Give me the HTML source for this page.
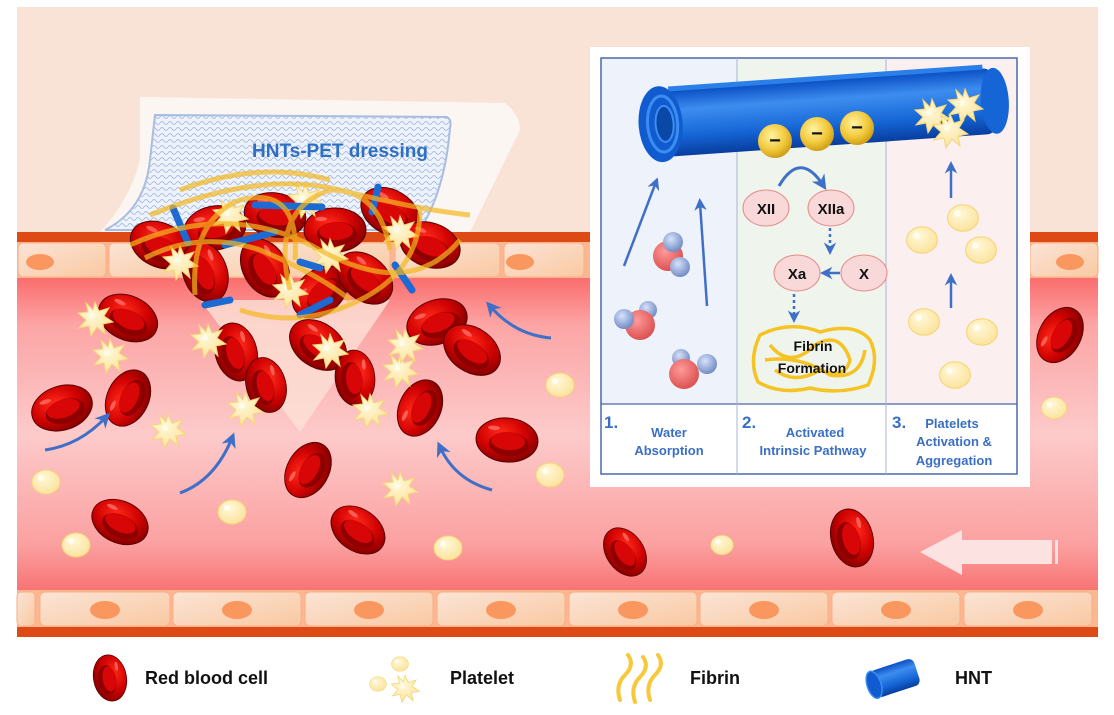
<!DOCTYPE html>
<html><head><meta charset="utf-8"><style>
html,body{margin:0;padding:0;background:#fff;}
svg{display:block;font-family:"Liberation Sans",sans-serif;}
</style></head><body>
<svg width="1114" height="715" viewBox="0 0 1114 715" xmlns="http://www.w3.org/2000/svg">
<defs>
<radialGradient id="rg" cx="0.4" cy="0.35" r="0.75"><stop offset="0" stop-color="#ff2a1a"/><stop offset="0.5" stop-color="#d20202"/><stop offset="1" stop-color="#700000"/></radialGradient>
<linearGradient id="lum" x1="0" y1="0" x2="0" y2="1"><stop offset="0" stop-color="#fb6d6d"/><stop offset="0.15" stop-color="#fca5a5"/><stop offset="0.5" stop-color="#fdcaca"/><stop offset="0.85" stop-color="#fba0a0"/><stop offset="1" stop-color="#f87272"/></linearGradient>
<linearGradient id="cell" x1="0" y1="0" x2="1" y2="1"><stop offset="0" stop-color="#fbe4d6"/><stop offset="1" stop-color="#f9c9a2"/></linearGradient>
<linearGradient id="tube" x1="0" y1="0" x2="0" y2="1"><stop offset="0" stop-color="#0a4fc4"/><stop offset="0.3" stop-color="#3d8df0"/><stop offset="0.7" stop-color="#1565d6"/><stop offset="1" stop-color="#083d9e"/></linearGradient>
<radialGradient id="ball" cx="0.4" cy="0.35" r="0.7"><stop offset="0" stop-color="#fff3a0"/><stop offset="0.6" stop-color="#f2c83a"/><stop offset="1" stop-color="#c79710"/></radialGradient>
<radialGradient id="oxy" cx="0.4" cy="0.35" r="0.7"><stop offset="0" stop-color="#ff9a9a"/><stop offset="1" stop-color="#d94c4c"/></radialGradient>
<radialGradient id="hyd" cx="0.4" cy="0.35" r="0.7"><stop offset="0" stop-color="#d6e2fb"/><stop offset="1" stop-color="#6c86c0"/></radialGradient>
<radialGradient id="plt" cx="0.4" cy="0.35" r="0.7"><stop offset="0" stop-color="#fff8d8"/><stop offset="1" stop-color="#fbe29a"/></radialGradient>
<pattern id="mesh" width="8" height="6" patternUnits="userSpaceOnUse"><rect width="8" height="6" fill="#eef2fb"/><path d="M0 3 Q2 0 4 3 T8 3" fill="none" stroke="#9fb4dc" stroke-width="0.8"/></pattern>
<g id="rbc"><ellipse rx="31" ry="22" fill="url(#rg)" stroke="#5a0000" stroke-width="1"/><ellipse cx="2" cy="4" rx="20" ry="12" fill="#8e0000"/><ellipse cx="1" cy="1" rx="17" ry="9" fill="#d80606"/><ellipse cx="-14" cy="-11" rx="6" ry="2.2" fill="#ff7a70" opacity="0.7"/></g>
<g id="pa"><path d="M0,-16 L4,-7 L14,-10 L9,-2 L18,4 L8,6 L10,16 L2,9 L-4,18 L-6,8 L-16,10 L-9,2 L-17,-5 L-7,-6 L-9,-15 L-2,-8 Z" fill="url(#plt)" stroke="#f5d676" stroke-width="1"/><circle cx="-3" cy="-2" r="3" fill="#fffbe9"/></g>
<g id="pr"><ellipse rx="14" ry="12" fill="url(#plt)" stroke="#f5d676" stroke-width="1"/><circle cx="-5" cy="-4" r="3" fill="#fffdf0"/></g>
<marker id="ah" viewBox="0 0 10 10" refX="6" refY="5" markerWidth="5" markerHeight="5" orient="auto"><path d="M0,0 L10,5 L0,10 L3,5 Z" fill="#3f6fc6"/></marker>
</defs>

<rect x="17" y="7" width="1081" height="230" fill="#f9e3d7"/>
<rect x="17" y="232" width="1081" height="10" fill="#dd4a16"/>
<rect x="17" y="242" width="1081" height="38" fill="#fbb792"/>
<g fill="url(#cell)" stroke="#fbae84" stroke-width="1">
<rect x="18" y="243" width="88" height="34" rx="5"/><rect x="109" y="243" width="88" height="34" rx="5"/><rect x="200" y="243" width="190" height="34" rx="5"/><rect x="395" y="243" width="105" height="34" rx="5"/><rect x="504" y="243" width="80" height="34" rx="5"/><rect x="1030" y="243" width="68" height="34" rx="5"/>
</g>
<g fill="#f9975f"><ellipse cx="40" cy="262" rx="14" ry="8"/><ellipse cx="520" cy="262" rx="14" ry="8"/><ellipse cx="1070" cy="262" rx="14" ry="8"/></g>
<rect x="17" y="278" width="1081" height="314" fill="url(#lum)"/>
<rect x="17" y="590" width="1081" height="38" fill="#fbb792"/>
<g fill="url(#cell)" stroke="#fbae84" stroke-width="1">
<rect x="17" y="592" width="18" height="34" rx="4"/><rect x="40" y="592" width="130" height="34" rx="5"/><rect x="173" y="592" width="128" height="34" rx="5"/><rect x="305" y="592" width="128" height="34" rx="5"/><rect x="437" y="592" width="128" height="34" rx="5"/><rect x="569" y="592" width="128" height="34" rx="5"/><rect x="700" y="592" width="128" height="34" rx="5"/><rect x="832" y="592" width="128" height="34" rx="5"/><rect x="964" y="592" width="128" height="34" rx="5"/>
</g>
<g fill="#f9975f"><ellipse cx="105" cy="610" rx="15" ry="9"/><ellipse cx="237" cy="610" rx="15" ry="9"/><ellipse cx="369" cy="610" rx="15" ry="9"/><ellipse cx="501" cy="610" rx="15" ry="9"/><ellipse cx="633" cy="610" rx="15" ry="9"/><ellipse cx="764" cy="610" rx="15" ry="9"/><ellipse cx="896" cy="610" rx="15" ry="9"/><ellipse cx="1028" cy="610" rx="15" ry="9"/></g>
<rect x="17" y="627" width="1081" height="10" fill="#dd4a16"/>

<path d="M200,300 L390,300 L300,432 Z" fill="#fbe1d6" opacity="0.8"/>

<path d="M140,97 L505,103 Q520,115 520,130 L470,232 L100,232 Q130,200 140,160 Z" fill="#fcf6f2"/>
<path d="M155,115 L447,117 Q452,120 450,128 Q445,190 420,230 L105,230 Q145,210 150,160 Z" fill="url(#mesh)" stroke="#a8bde0" stroke-width="2"/>
<text x="340" y="157" font-size="19" font-weight="bold" fill="#2f6fc2" text-anchor="middle">HNTs-PET dressing</text>

<g>
<use href="#rbc" transform="translate(160,245) rotate(25)"/>
<use href="#rbc" transform="translate(215,228) rotate(-10)"/>
<use href="#rbc" transform="translate(275,215) rotate(10)"/>
<use href="#rbc" transform="translate(335,230) rotate(0)"/>
<use href="#rbc" transform="translate(390,212) rotate(30)"/>
<use href="#rbc" transform="translate(430,245) rotate(20)"/>
<use href="#rbc" transform="translate(205,272) rotate(70)"/>
<use href="#rbc" transform="translate(265,268) rotate(60)"/>
<use href="#rbc" transform="translate(320,292) rotate(-40)"/>
<use href="#rbc" transform="translate(365,278) rotate(40)"/>
<use href="#pa" transform="translate(180,262)"/><use href="#pa" transform="translate(230,215)"/><use href="#pa" transform="translate(305,200)"/><use href="#pa" transform="translate(330,255)"/><use href="#pa" transform="translate(400,232)"/><use href="#pa" transform="translate(290,290)"/>
<g stroke="#1d6ad2" stroke-width="7" stroke-linecap="round">
<line x1="173" y1="208" x2="188" y2="243"/><line x1="255" y1="205" x2="322" y2="207"/><line x1="225" y1="245" x2="275" y2="232"/><line x1="378" y1="187" x2="372" y2="212"/><line x1="395" y1="265" x2="412" y2="290"/><line x1="205" y1="305" x2="230" y2="300"/><line x1="300" y1="315" x2="330" y2="300"/><line x1="300" y1="262" x2="320" y2="268"/>
</g>
<g fill="none" stroke="#f5b820" stroke-width="5" opacity="0.7">
<path d="M130,245 Q230,200 320,250 T460,240"/><path d="M150,215 Q260,170 340,190 T470,215"/><path d="M195,295 Q190,220 240,200 Q300,185 295,260"/><path d="M290,290 Q270,210 330,190 Q380,190 390,250"/><path d="M240,310 Q300,330 360,300 Q420,270 420,210"/><path d="M180,190 Q260,160 330,180"/><path d="M145,258 Q200,230 260,250 Q320,275 350,300"/>
</g>
</g>

<use href="#rbc" transform="translate(128,318) rotate(25)"/>
<use href="#rbc" transform="translate(62,408) rotate(-18)"/>
<use href="#rbc" transform="translate(128,398) rotate(-65) scale(0.95)"/>
<use href="#rbc" transform="translate(120,522) rotate(25) scale(0.95)"/>
<use href="#rbc" transform="translate(236,352) rotate(75) scale(0.95)"/>
<use href="#rbc" transform="translate(266,385) rotate(75) scale(0.9)"/>
<use href="#rbc" transform="translate(318,345) rotate(35)"/>
<use href="#rbc" transform="translate(355,378) rotate(85) scale(0.9)"/>
<use href="#rbc" transform="translate(308,470) rotate(-60) scale(0.95)"/>
<use href="#rbc" transform="translate(358,530) rotate(35) scale(0.95)"/>
<use href="#rbc" transform="translate(420,408) rotate(-65) scale(0.95)"/>
<use href="#rbc" transform="translate(437,322) rotate(-20)"/>
<use href="#rbc" transform="translate(472,350) rotate(35)"/>
<use href="#rbc" transform="translate(507,440) rotate(5)"/>
<use href="#rbc" transform="translate(625,552) rotate(55) scale(0.85)"/>
<use href="#rbc" transform="translate(852,538) rotate(75) scale(0.95)"/>
<use href="#rbc" transform="translate(1060,335) rotate(-60) scale(0.95)"/>
<use href="#pa" transform="translate(95,318)"/><use href="#pa" transform="translate(110,355)"/><use href="#pa" transform="translate(168,430)"/><use href="#pa" transform="translate(208,340)"/><use href="#pa" transform="translate(245,408)"/><use href="#pa" transform="translate(330,350)"/><use href="#pa" transform="translate(370,410)"/><use href="#pa" transform="translate(400,370)"/><use href="#pa" transform="translate(400,488)"/><use href="#pa" transform="translate(405,345)"/>
<use href="#pr" transform="translate(46,482)"/><use href="#pr" transform="translate(76,545)"/><use href="#pr" transform="translate(232,512)"/><use href="#pr" transform="translate(448,548)"/><use href="#pr" transform="translate(560,385)"/><use href="#pr" transform="translate(550,475)"/><use href="#pr" transform="translate(722,545) scale(0.8)"/><use href="#pr" transform="translate(1054,408) scale(0.9)"/>

<g fill="none" stroke="#3f6fc6" stroke-width="3" marker-end="url(#ah)">
<path d="M45,450 Q80,445 106,417"/><path d="M180,493 Q215,480 232,438"/><path d="M492,490 Q455,480 440,447"/><path d="M551,338 Q515,335 490,306"/>
</g>
<path d="M920,552 L962,530 L962,540 L1052,540 L1052,564 L962,564 L962,575 Z" fill="#fde2e2"/>
<rect x="1055" y="540" width="3" height="24" fill="#fde2e2"/>

<rect x="590" y="47" width="440" height="440" fill="#fff"/>
<rect x="601" y="58" width="136" height="346" fill="#eef2fb"/>
<rect x="737" y="58" width="149" height="346" fill="#eff4ec"/>
<rect x="886" y="58" width="131" height="346" fill="#fcefef"/>
<rect x="601" y="58" width="416" height="416" fill="none" stroke="#4a68a8" stroke-width="1.5"/>
<line x1="601" y1="404" x2="1017" y2="404" stroke="#4a68a8" stroke-width="1.2"/>
<line x1="737" y1="58" x2="737" y2="474" stroke="#a8b4d4" stroke-width="1"/>
<line x1="886" y1="58" x2="886" y2="474" stroke="#a8b4d4" stroke-width="1"/>
<g transform="rotate(-4 820 110)">
<rect x="655" y="80" width="340" height="66" rx="10" fill="url(#tube)"/>
<ellipse cx="995" cy="113" rx="14" ry="33" fill="#1565d6"/>
<rect x="670" y="76" width="315" height="5" fill="#2b7fe8"/>
<ellipse cx="660" cy="113" rx="22" ry="38" fill="#0f5bcf"/>
<ellipse cx="662" cy="113" rx="15" ry="28" fill="none" stroke="#3d8df0" stroke-width="3"/>
<ellipse cx="664" cy="113" rx="9" ry="18" fill="#0a48a8" stroke="#3d8df0" stroke-width="2"/>
</g>
<g font-size="20" font-weight="bold" fill="#111" text-anchor="middle">
<circle cx="775" cy="141" r="17" fill="url(#ball)"/><text x="775" y="147">−</text>
<circle cx="817" cy="134" r="17" fill="url(#ball)"/><text x="817" y="140">−</text>
<circle cx="857" cy="128" r="17" fill="url(#ball)"/><text x="857" y="134">−</text>
</g>
<g fill="none" stroke="#3f6fc6" stroke-width="2.5" marker-end="url(#ah)">
<line x1="624" y1="266" x2="656" y2="182"/><line x1="707" y1="306" x2="700" y2="203"/>
</g>
<g>
<circle cx="668" cy="256" r="15" fill="url(#oxy)"/><circle cx="673" cy="242" r="10" fill="url(#hyd)"/><circle cx="680" cy="267" r="10" fill="url(#hyd)"/>
<circle cx="648" cy="310" r="9" fill="url(#hyd)"/><circle cx="640" cy="325" r="15" fill="url(#oxy)"/><circle cx="624" cy="319" r="10" fill="url(#hyd)"/>
<circle cx="681" cy="358" r="9" fill="url(#hyd)"/><circle cx="684" cy="374" r="15" fill="url(#oxy)"/><circle cx="707" cy="364" r="10" fill="url(#hyd)"/>
</g>
<path d="M779,186 Q800,150 823,185" fill="none" stroke="#3f6fc6" stroke-width="3" marker-end="url(#ah)"/>
<g fill="#f8d8d8" stroke="#e68a8a" stroke-width="1">
<ellipse cx="766" cy="208" rx="23" ry="18"/><ellipse cx="831" cy="208" rx="23" ry="18"/><ellipse cx="797" cy="273" rx="23" ry="18"/><ellipse cx="864" cy="273" rx="23" ry="18"/>
</g>
<g font-size="15" font-weight="bold" fill="#111" text-anchor="middle">
<text x="766" y="214">XII</text><text x="831" y="214">XIIa</text><text x="797" y="279">Xa</text><text x="864" y="279">X</text>
</g>
<g stroke="#3f6fc6" stroke-width="2.5" fill="none">
<line x1="830" y1="228" x2="830" y2="250" stroke-dasharray="3,3" marker-end="url(#ah)"/>
<line x1="840" y1="273" x2="825" y2="273" marker-end="url(#ah)"/>
<line x1="794" y1="294" x2="794" y2="318" stroke-dasharray="3,3" marker-end="url(#ah)"/>
</g>
<g fill="none" stroke="#f6c324" stroke-width="3.5">
<path d="M760,335 Q790,320 820,332 Q855,322 870,340 Q880,360 868,385 Q840,395 810,388 Q780,395 758,382 Q748,360 760,335 Z"/>
<path d="M770,345 Q790,370 815,345 Q840,330 850,360 Q845,380 820,370 Q795,385 775,370"/>
<path d="M765,360 Q800,355 830,375 Q860,380 865,350"/>
</g>
<g font-size="14" font-weight="bold" fill="#111" text-anchor="middle">
<text x="813" y="351">Fibrin</text><text x="812" y="373">Formation</text>
</g>
<g stroke="#3f6fc6" stroke-width="2.5" marker-end="url(#ah)">
<line x1="951" y1="198" x2="951" y2="166"/><line x1="951" y1="308" x2="951" y2="278"/>
</g>
<use href="#pa" transform="translate(932,115)"/><use href="#pa" transform="translate(965,105)"/><use href="#pa" transform="translate(950,130)"/>
<use href="#pr" transform="translate(922,240) scale(1.1)"/><use href="#pr" transform="translate(963,218) scale(1.1)"/><use href="#pr" transform="translate(981,250) scale(1.1)"/><use href="#pr" transform="translate(924,322) scale(1.1)"/><use href="#pr" transform="translate(982,332) scale(1.1)"/><use href="#pr" transform="translate(955,375) scale(1.1)"/>
<g font-weight="bold" fill="#3a6fc4">
<text x="604" y="428" font-size="17">1.</text>
<text x="669" y="437" font-size="13" text-anchor="middle">Water</text>
<text x="669" y="455" font-size="13" text-anchor="middle">Absorption</text>
<text x="742" y="428" font-size="17">2.</text>
<text x="815" y="437" font-size="13" text-anchor="middle">Activated</text>
<text x="813" y="455" font-size="13" text-anchor="middle">Intrinsic Pathway</text>
<text x="892" y="428" font-size="17">3.</text>
<text x="952" y="428" font-size="13" text-anchor="middle">Platelets</text>
<text x="954" y="446" font-size="13" text-anchor="middle">Activation &amp;</text>
<text x="954" y="465" font-size="13" text-anchor="middle">Aggregation</text>
</g>

<use href="#rbc" transform="translate(110,678) rotate(80) scale(0.75)"/>
<text x="145" y="684" font-size="18" font-weight="bold" fill="#111">Red blood cell</text>
<use href="#pr" transform="translate(400,664) scale(0.6)"/><use href="#pr" transform="translate(378,684) scale(0.6)"/><use href="#pa" transform="translate(405,688) scale(0.8)"/>
<text x="450" y="684" font-size="18" font-weight="bold" fill="#111">Platelet</text>
<g fill="none" stroke="#f6c83a" stroke-width="4" stroke-linecap="round">
<path d="M620,700 Q615,685 625,675 Q635,665 628,655"/><path d="M635,702 Q630,687 640,677 Q650,667 643,657"/><path d="M650,700 Q645,685 655,675 Q665,665 658,655"/>
</g>
<text x="690" y="684" font-size="18" font-weight="bold" fill="#111">Fibrin</text>
<g transform="rotate(-18 895 678)">
<rect x="872" y="664" width="46" height="28" rx="6" fill="url(#tube)"/>
<ellipse cx="873" cy="678" rx="7" ry="14" fill="#0f5bcf" stroke="#3d8df0" stroke-width="1.5"/>
</g>
<text x="955" y="684" font-size="18" font-weight="bold" fill="#111">HNT</text>
</svg>
</body></html>
